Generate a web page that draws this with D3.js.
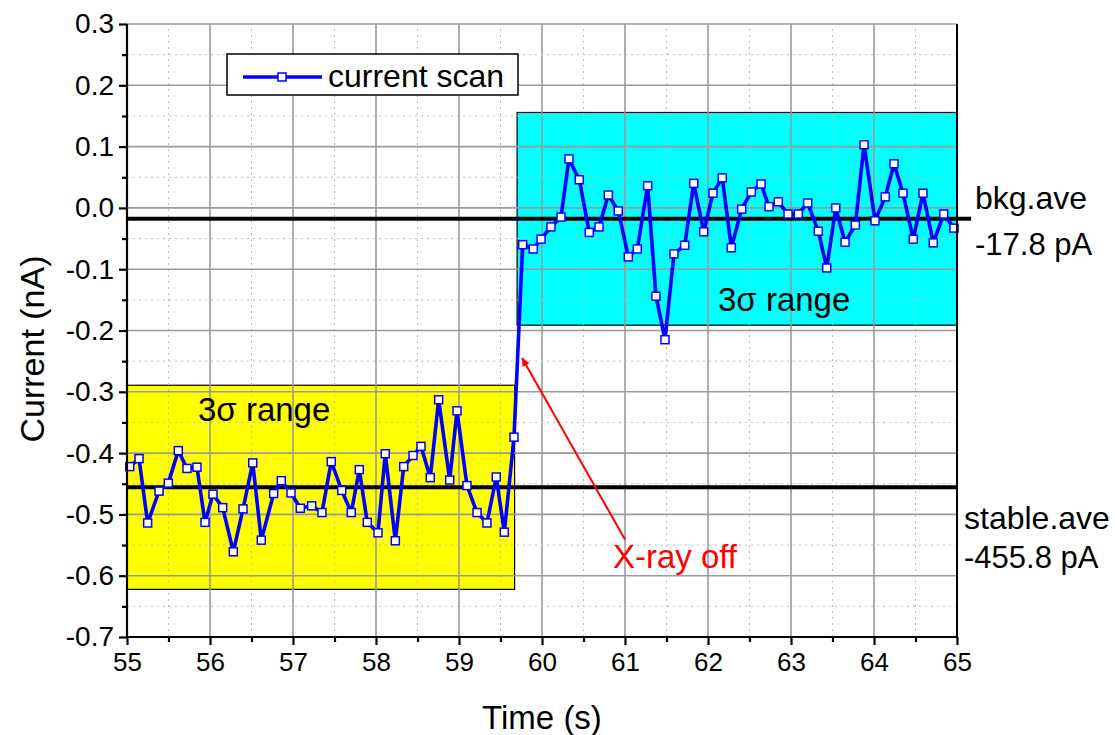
<!DOCTYPE html>
<html>
<head>
<meta charset="utf-8">
<script src="https://cdn.jsdelivr.net/npm/d3@7"></script>
<style>
  html, body { margin: 0; padding: 0; background: #ffffff; }
  svg { display: block; font-family: "Liberation Sans", Arial, sans-serif; }
</style>
</head>
<body>
<svg id="chart" width="1115" height="735"></svg>
<script>
// Current scan around the X-ray shutter closing: time (s) and current (nA)
const timeS = [
  55.033, 55.145, 55.249, 55.386, 55.498, 55.618, 55.723, 55.843, 55.940, 56.036,
  56.153, 56.281, 56.398, 56.515, 56.618, 56.767, 56.859, 56.976, 57.088, 57.225,
  57.349, 57.461, 57.587, 57.702, 57.799, 57.895, 58.024, 58.112, 58.233, 58.334,
  58.446, 58.542, 58.654, 58.755, 58.888, 58.976, 59.096, 59.217, 59.337, 59.449,
  59.546, 59.663,
  59.767, 59.895, 59.988, 60.108, 60.229, 60.325, 60.449, 60.570, 60.687, 60.799,
  60.919, 61.040, 61.148, 61.273, 61.373, 61.482, 61.590, 61.719, 61.828, 61.948,
  62.060, 62.172, 62.281, 62.406, 62.522, 62.639, 62.735, 62.847, 62.964, 63.088,
  63.201, 63.329, 63.430, 63.539, 63.651, 63.775, 63.880, 64.012, 64.136, 64.241,
  64.349, 64.473, 64.590, 64.714, 64.840, 64.964
];
const currentNA = [
  -0.422, -0.409, -0.514, -0.462, -0.449, -0.396, -0.425, -0.423, -0.513, -0.467,
  -0.489, -0.561, -0.491, -0.416, -0.542, -0.466, -0.445, -0.465, -0.490, -0.486,
  -0.497, -0.414, -0.461, -0.497, -0.427, -0.513, -0.530, -0.401, -0.543, -0.422,
  -0.404, -0.389, -0.440, -0.313, -0.444, -0.331, -0.453, -0.497, -0.514, -0.439,
  -0.529, -0.374,
  -0.060, -0.067, -0.051, -0.031, -0.015, 0.080, 0.046, -0.040, -0.031, 0.021,
  -0.005, -0.080, -0.067, 0.036, -0.144, -0.215, -0.075, -0.061, 0.040, -0.039,
  0.024, 0.049, -0.065, -0.002, 0.026, 0.039, 0.002, 0.010, -0.010, -0.010,
  0.008, -0.038, -0.098, 0.000, -0.056, -0.028, 0.103, -0.021, 0.018, 0.072,
  0.024, -0.051, 0.024, -0.057, -0.010, -0.033
];

// Averages and 3-sigma bands (nA) with their time spans (s)
const bandNames = ["stable", "bkg"];
const bandAve = [-0.4558, -0.0178];
const bandThreeSigma = [0.1665, 0.1735];
const bandStart = [55, 59.70];
const bandEnd = [59.67, 65];
const aveLineEnd = [65, 65.17];
const aveLabels = [["stable.ave", "-455.8 pA"], ["bkg.ave", "-17.8 pA"]];

// Axis ranges and ticks
const xDomain = [55, 65];
const yDomain = [-0.7, 0.3];
const xTicks = [55, 56, 57, 58, 59, 60, 61, 62, 63, 64, 65];
const xMinorTicks = [55.5, 56.5, 57.5, 58.5, 59.5, 60.5, 61.5, 62.5, 63.5, 64.5];
const yTicks = [-0.7, -0.6, -0.5, -0.4, -0.3, -0.2, -0.1, 0.0, 0.1, 0.2, 0.3];
const yMinorTicks = [-0.65, -0.55, -0.45, -0.35, -0.25, -0.15, -0.05, 0.05, 0.15, 0.25];

// Annotation: arrow from the label to the start of the step
const arrowFrom = [61.0, -0.541];
const arrowTo = [59.76, -0.245];

const svg = d3.select("#chart");
const x = d3.scaleLinear().domain(xDomain).range([127, 957]);
const y = d3.scaleLinear().domain(yDomain).range([637, 24]);

// tick numbers use a plain hyphen for the sign
const locale = d3.formatLocale({ decimal: ".", thousands: ",", grouping: [3], currency: ["", ""], minus: "-" });

const bandColors = ["#ffff00", "#00ffff"];

// Shaded 3-sigma bands
const bands = svg.append("g");
bandNames.forEach((n, i) => {
  const top = bandAve[i] + bandThreeSigma[i];
  const bot = bandAve[i] - bandThreeSigma[i];
  bands.append("rect")
    .attr("x", x(bandStart[i]))
    .attr("y", y(top))
    .attr("width", x(bandEnd[i]) - x(bandStart[i]))
    .attr("height", y(bot) - y(top))
    .attr("fill", bandColors[i])
    .attr("stroke", "#000")
    .attr("stroke-width", 1.2);
});

// Grid: solid at major ticks, dotted at minor ticks
const grid = svg.append("g");
grid.selectAll("line.gxm").data(xTicks.slice(1)).join("line")
  .attr("x1", d => x(d)).attr("x2", d => x(d)).attr("y1", y(yDomain[0])).attr("y2", y(yDomain[1]))
  .attr("stroke", "#9a9a9a").attr("stroke-width", 1.6);
grid.selectAll("line.gxn").data(xMinorTicks).join("line")
  .attr("x1", d => x(d)).attr("x2", d => x(d)).attr("y1", y(yDomain[0])).attr("y2", y(yDomain[1]))
  .attr("stroke", "#bdbdbd").attr("stroke-width", 1).attr("stroke-dasharray", "2,4");
grid.selectAll("line.gym").data(yTicks.slice(1)).join("line")
  .attr("x1", x(xDomain[0])).attr("x2", x(xDomain[1])).attr("y1", d => y(d)).attr("y2", d => y(d))
  .attr("stroke", "#9a9a9a").attr("stroke-width", 1.6);
grid.selectAll("line.gyn").data(yMinorTicks).join("line")
  .attr("x1", x(xDomain[0])).attr("x2", x(xDomain[1])).attr("y1", d => y(d)).attr("y2", d => y(d))
  .attr("stroke", "#bdbdbd").attr("stroke-width", 1).attr("stroke-dasharray", "2,4");

// Band labels
svg.append("text").attr("x", 198).attr("y", 421)
  .attr("font-size", 33).attr("fill", "#000").text("3σ range");
svg.append("text").attr("x", 718).attr("y", 311)
  .attr("font-size", 33).attr("fill", "#000").text("3σ range");

// Average lines
bandNames.forEach((n, i) => {
  svg.append("line")
    .attr("x1", x(xDomain[0])).attr("x2", x(aveLineEnd[i]))
    .attr("y1", y(bandAve[i])).attr("y2", y(bandAve[i]))
    .attr("stroke", "#000").attr("stroke-width", 4);
});

// Data line and markers
const pts = timeS.map((t, i) => [t, currentNA[i]]);
const line = d3.line().x(d => x(d[0])).y(d => y(d[1]));
svg.append("path").datum(pts)
  .attr("d", line).attr("fill", "none")
  .attr("stroke", "#0000ff").attr("stroke-width", 3.6).attr("stroke-linejoin", "round");
const ms = 8;
svg.append("g").selectAll("rect").data(pts).join("rect")
  .attr("x", d => x(d[0]) - ms / 2).attr("y", d => y(d[1]) - ms / 2)
  .attr("width", ms).attr("height", ms)
  .attr("fill", "#fff").attr("stroke", "#0000ff").attr("stroke-width", 1.5);

// Axes
const xAxis = d3.axisBottom(x).tickValues(xTicks).tickSize(8).tickPadding(8).tickFormat(locale.format("d"));
const xAxisMinor = d3.axisBottom(x).tickValues(xMinorTicks).tickSize(5).tickFormat("");
const yAxis = d3.axisLeft(y).tickValues(yTicks).tickSize(8).tickPadding(5).tickFormat(locale.format(".1f"));
const yAxisMinor = d3.axisLeft(y).tickValues(yMinorTicks).tickSize(5).tickFormat("");

function styleAxis(g, size) {
  g.select(".domain").attr("stroke", "#000").attr("stroke-width", 2.2);
  g.selectAll(".tick line").attr("stroke", "#000").attr("stroke-width", 2.2);
  g.selectAll(".tick text").attr("fill", "#000").attr("font-size", size)
    .attr("font-family", "Liberation Sans, Arial, sans-serif");
}
svg.append("g").attr("transform", `translate(0,${y(yDomain[0])})`).call(xAxisMinor).call(styleAxis, 26)
  .select(".domain").remove();
svg.append("g").attr("transform", `translate(${x(xDomain[0])},0)`).call(yAxisMinor).call(styleAxis, 28)
  .select(".domain").remove();
svg.append("g").attr("transform", `translate(0,${y(yDomain[0])})`).call(xAxis).call(styleAxis, 26)
  .call(g => g.select(".domain").attr("d", `M${x(xDomain[0])},0H${x(xDomain[1])}`));
svg.append("g").attr("transform", `translate(${x(xDomain[0])},0)`).call(yAxis).call(styleAxis, 28)
  .call(g => g.select(".domain").attr("d", `M0,${y(yDomain[0])}V${y(yDomain[1])}`));
// right frame
svg.append("line").attr("x1", x(xDomain[1])).attr("x2", x(xDomain[1]))
  .attr("y1", y(yDomain[0])).attr("y2", y(yDomain[1]))
  .attr("stroke", "#000").attr("stroke-width", 2);

// Axis titles
svg.append("text").attr("x", 542).attr("y", 729).attr("text-anchor", "middle")
  .attr("font-size", 33).text("Time (s)");
svg.append("text").attr("transform", `translate(44,349) rotate(-90)`)
  .attr("text-anchor", "middle").attr("font-size", 34).text("Current (nA)");

// Average value labels
const aveLabelPos = [[964, 529, 568], [975, 209, 255]];
aveLabels.forEach((lab, i) => {
  svg.append("text").attr("x", aveLabelPos[i][0]).attr("y", aveLabelPos[i][1])
    .attr("font-size", 32).text(lab[0]);
  svg.append("text").attr("x", aveLabelPos[i][0]).attr("y", aveLabelPos[i][2])
    .attr("font-size", 31).text(lab[1]);
});

// Legend
const lg = svg.append("g");
lg.append("rect").attr("x", 227).attr("y", 54).attr("width", 291).attr("height", 41)
  .attr("fill", "#fff").attr("stroke", "#000").attr("stroke-width", 1.5);
lg.append("line").attr("x1", 243).attr("x2", 322).attr("y1", 77).attr("y2", 77)
  .attr("stroke", "#0000ff").attr("stroke-width", 3.6);
lg.append("rect").attr("x", 282 - 4).attr("y", 77 - 4).attr("width", 8).attr("height", 8)
  .attr("fill", "#fff").attr("stroke", "#0000ff").attr("stroke-width", 1.5);
lg.append("text").attr("x", 328).attr("y", 87).attr("font-size", 32).text("current scan");

// Annotation arrow and label
svg.append("defs").append("marker").attr("id", "arrowHead")
  .attr("viewBox", "0 0 10 10").attr("refX", 10).attr("refY", 5)
  .attr("markerWidth", 9).attr("markerHeight", 8).attr("orient", "auto")
  .attr("markerUnits", "userSpaceOnUse")
  .append("path").attr("d", "M0,0L10,5L0,10Z").attr("fill", "#ff0000");
svg.append("line")
  .attr("x1", x(arrowFrom[0])).attr("y1", y(arrowFrom[1]))
  .attr("x2", x(arrowTo[0])).attr("y2", y(arrowTo[1]))
  .attr("stroke", "#ff0000").attr("stroke-width", 2).attr("marker-end", "url(#arrowHead)");
svg.append("text").attr("x", 675).attr("y", 568).attr("text-anchor", "middle")
  .attr("font-size", 33).attr("fill", "#ff0000").text("X-ray off");
</script>
</body>
</html>
